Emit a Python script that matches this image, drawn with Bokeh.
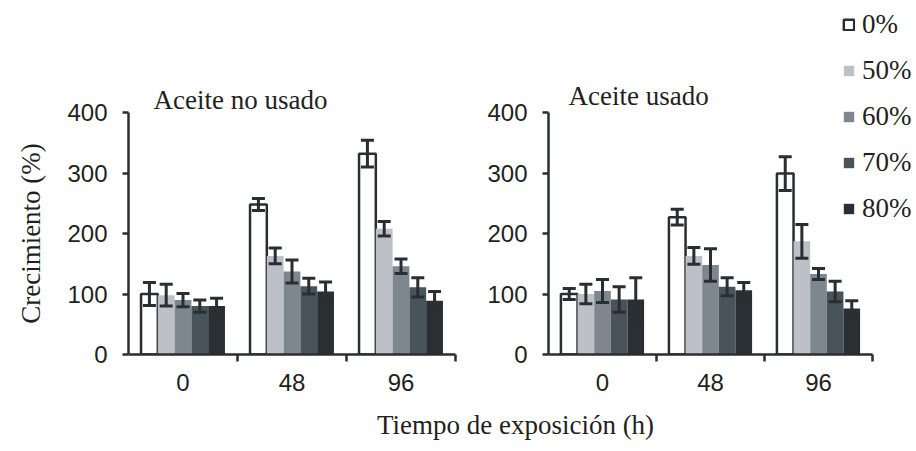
import math
from bokeh.plotting import figure
from bokeh.models import (ColumnDataSource, Range1d, FixedTicker, Whisker, TeeHead, Label,
                          Legend, LegendItem)
from bokeh.layouts import row, column
from bokeh.embed import file_html
from bokeh.resources import INLINE

# ---------------- data ----------------
times = ["0", "48", "96"]
series = ["0%", "50%", "60%", "70%", "80%"]
colors = ["#ffffff", "#bec0c7", "#7e878e", "#48535a", "#2a2f33"]

# Aceite no usado (mean, error)
unused_0 = [100, 248, 332];  unused_0_err = [19, 10, 22]
unused_50 = [98, 163, 208];  unused_50_err = [18, 13, 12]
unused_60 = [90, 137, 146];  unused_60_err = [11, 19, 12]
unused_70 = [80, 113, 111];  unused_70_err = [10, 13, 16]
unused_80 = [80, 104, 89];   unused_80_err = [13, 16, 15]

# Aceite usado (mean, error)
used_0 = [100, 227, 299];  used_0_err = [9, 13, 28]
used_50 = [100, 163, 187]; used_50_err = [16, 14, 28]
used_60 = [105, 148, 133]; used_60_err = [19, 27, 9]
used_70 = [91, 112, 104];  used_70_err = [21, 15, 17]
used_80 = [91, 106, 76];   used_80_err = [36, 13, 13]

y_ticks = [0, 100, 200, 300, 400]

unused_means = [unused_0, unused_50, unused_60, unused_70, unused_80]
unused_errs = [unused_0_err, unused_50_err, unused_60_err, unused_70_err, unused_80_err]
used_means = [used_0, used_50, used_60, used_70, used_80]
used_errs = [used_0_err, used_50_err, used_60_err, used_70_err, used_80_err]

# ---------------- style ----------------
DARK = "#2a2e33"
TEXT = "#231f20"
SERIF = "Liberation Serif"
SANS = "Liberation Sans"
PX_PER_UNIT = 0.605
BAR_W = 0.154
H = 401
BOTTOM = 47
FRAME_H = H - BOTTOM
Y_END = FRAME_H / PX_PER_UNIT


def bare_figure(width, height, x_end, y_end):
    f = figure(width=width, height=height, output_backend="svg", toolbar_location=None,
               x_range=Range1d(0, x_end), y_range=Range1d(0, y_end),
               x_axis_type=None, y_axis_type=None, min_border=0)
    f.xgrid.visible = False
    f.ygrid.visible = False
    f.outline_line_color = None
    return f


def make_panel(means, errs, width, border_left, border_right, x_end):
    p = figure(width=width, height=H, output_backend="svg", toolbar_location=None,
               x_range=Range1d(0, x_end), y_range=Range1d(0, Y_END),
               min_border_left=border_left, min_border_right=border_right,
               min_border_top=0, min_border_bottom=BOTTOM)
    p.xgrid.visible = False
    p.ygrid.visible = False
    p.outline_line_color = None
    p.background_fill_color = None
    p.border_fill_color = None

    n = len(series)
    renderers = []
    for i, c in enumerate(colors):
        xs = [j + 0.5 + (i - (n - 1) / 2) * BAR_W for j in range(len(times))]
        src = ColumnDataSource(dict(
            x=xs, top=means[i],
            upper=[m + e for m, e in zip(means[i], errs[i])],
            lower=[m - e for m, e in zip(means[i], errs[i])]))
        kw = dict(x="x", top="top", width=BAR_W, source=src, fill_color=c)
        if i == 0:
            kw.update(line_color=DARK, line_width=2.5)
        else:
            kw.update(line_color=None)
        renderers.append(p.vbar(**kw))
        w = Whisker(base="x", upper="upper", lower="lower", source=src,
                    line_color=DARK, line_width=3, level="annotation",
                    upper_head=TeeHead(size=13, line_color=DARK, line_width=3),
                    lower_head=TeeHead(size=13, line_color=DARK, line_width=3))
        p.add_layout(w)

    # x axis
    xa = p.xaxis[0]
    xa.ticker = FixedTicker(ticks=[j + 0.5 for j in range(len(times))],
                            minor_ticks=[j + 1 for j in range(len(times))])
    xa.major_label_overrides = {j + 0.5: t for j, t in enumerate(times)}
    xa.bounds = (0, len(times))
    xa.major_tick_out = 0
    xa.major_tick_in = 0
    xa.minor_tick_out = 7
    xa.minor_tick_in = 0
    xa.minor_tick_line_color = DARK
    xa.minor_tick_line_width = 2.5
    xa.axis_line_color = DARK
    xa.axis_line_width = 2.5
    xa.major_label_text_font = SANS
    xa.major_label_text_font_size = "24px"
    xa.major_label_text_color = TEXT
    xa.major_label_standoff = 12

    # y axis
    ya = p.yaxis[0]
    ya.ticker = FixedTicker(ticks=y_ticks)
    ya.bounds = (0, y_ticks[-1])
    ya.major_tick_out = 6
    ya.major_tick_in = 0
    ya.minor_tick_out = 0
    ya.minor_tick_in = 0
    ya.major_tick_line_color = DARK
    ya.major_tick_line_width = 2.5
    ya.axis_line_color = DARK
    ya.axis_line_width = 2.5
    ya.major_label_text_font = SANS
    ya.major_label_text_font_size = "24px"
    ya.major_label_text_color = TEXT
    ya.major_label_standoff = 15
    return p, renderers


def text_label(p, x, y, text, **kw):
    p.add_layout(Label(x=x, y=y, text=text, text_font=SERIF, text_font_size="27px",
                       text_color=TEXT, **kw))


# y-axis title strip, sharing the panels' vertical scale
p0 = bare_figure(50, H, 50, Y_END)
p0.min_border_bottom = BOTTOM
text_label(p0, 30, y_ticks[-1] / 2, "Crecimiento (%)", angle=math.pi / 2,
           text_baseline="middle", text_align="center")

# left panel
p1, _ = make_panel(unused_means, unused_errs, width=420, border_left=78,
                   border_right=15, x_end=3)
text_label(p1, 0.23, 421, "Aceite no usado", text_baseline="middle", text_align="left")

# right panel (tall frame also hosts the legend)
p2, rs = make_panel(used_means, used_errs, width=446, border_left=78,
                    border_right=0, x_end=3 * 368 / 324)
text_label(p2, 0.185, 428, "Aceite usado", text_baseline="middle", text_align="left")
lg = Legend(items=[LegendItem(label=s, renderers=[r]) for s, r in zip(series, rs)],
            location=(294, 130), background_fill_alpha=0, border_line_color=None,
            padding=0, margin=0, spacing=15, glyph_width=13, glyph_height=13,
            label_standoff=7, label_text_font=SERIF, label_text_font_size="27px",
            label_text_color=TEXT)
p2.add_layout(lg)

# shared x-axis title
p3 = bare_figure(916, 50, 916, 50)
p3.add_layout(Label(x=515, y=27, text="Tiempo de exposición (h)", text_font=SERIF,
                    text_font_size="27px", text_color=TEXT,
                    text_align="center", text_baseline="middle"))

layout = column(row(p0, p1, p2), p3)
open("out.html", "w").write(file_html(layout, INLINE))
